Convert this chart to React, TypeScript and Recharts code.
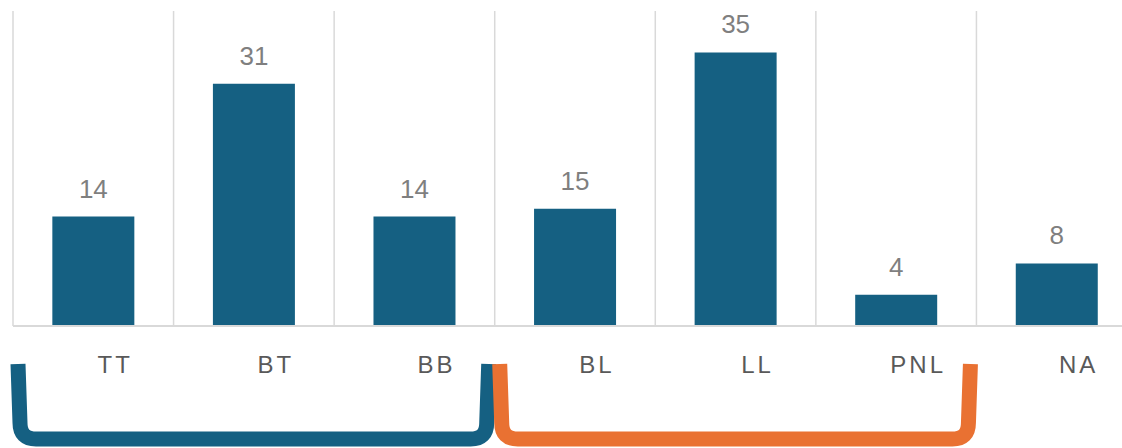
import React from 'react';
import { BarChart, Bar, XAxis, YAxis, CartesianGrid, LabelList, ReferenceArea } from 'recharts';

const categories = ['TT', 'BT', 'BB', 'BL', 'LL', 'PNL', 'NA'];
const counts = [14, 31, 14, 15, 35, 4, 8];

// groups marked by brackets under the axis
const groupStarts = ['TT', 'BL'];
const groupEnds = ['BB', 'PNL'];
const groupColors = ['#156082', '#E97132'];

const data = categories.map((name, i) => ({ name, count: counts[i] }));

const FONT = '"Liberation Sans", Arial, sans-serif';

const CategoryTick = (props: any) => {
  const { x, y, payload } = props;
  return (
    <text
      x={x + 22}
      y={y + 47}
      textAnchor="middle"
      fill="#595959"
      fontSize={24}
      fontFamily={FONT}
      letterSpacing={3}
    >
      {payload.value}
    </text>
  );
};

const Bracket = (color: string) => (props: any) => {
  const { x, y, width, height } = props;
  const base = y + height;
  const top = base + 38;
  const bottom = base + 113;
  const left = x + 5;
  const right = x + width - 6;
  const r = 16;
  const d =
    `M ${left} ${top} L ${left + 2} ${bottom - r} ` +
    `Q ${left + 2} ${bottom} ${left + 2 + r} ${bottom} ` +
    `L ${right - 2 - r} ${bottom} ` +
    `Q ${right - 2} ${bottom} ${right - 2} ${bottom - r} L ${right} ${top}`;
  return <path d={d} fill="none" stroke={color} strokeWidth={15} strokeLinejoin="round" />;
};

export default function App() {
  return (
    <div style={{ position: 'absolute', left: 0, top: 0, width: 1122, height: 448, overflow: 'hidden', background: '#fff' }}>
      <BarChart
        width={1140}
        height={448}
        data={data}
        margin={{ top: 11, right: 3, bottom: 92, left: 13 }}
        barCategoryGap="24.5%"
      >
        <CartesianGrid
          horizontal={false}
          stroke="#d9d9d9"
          strokeWidth={1.5}
          verticalCoordinatesGenerator={({ offset }: any) =>
            categories.map((_, i) => offset.left + (i * offset.width) / categories.length)
          }
        />
        <XAxis
          dataKey="name"
          height={30}
          tickLine={false}
          tickSize={0}
          tickMargin={0}
          axisLine={{ stroke: '#d9d9d9', strokeWidth: 2 }}
          tick={<CategoryTick />}
          interval={0}
        />
        <YAxis hide domain={[0, 40.3]} />
        {groupStarts.map((start, i) => (
          <ReferenceArea
            key={start}
            x1={start}
            x2={groupEnds[i]}
            shape={Bracket(groupColors[i])}
          />
        ))}
        <Bar dataKey="count" fill="#156082" isAnimationActive={false}>
          <LabelList
            dataKey="count"
            position="top"
            offset={19}
            fill="#7f7f7f"
            fontSize={26}
            fontFamily={FONT}
          />
        </Bar>
      </BarChart>
    </div>
  );
}
